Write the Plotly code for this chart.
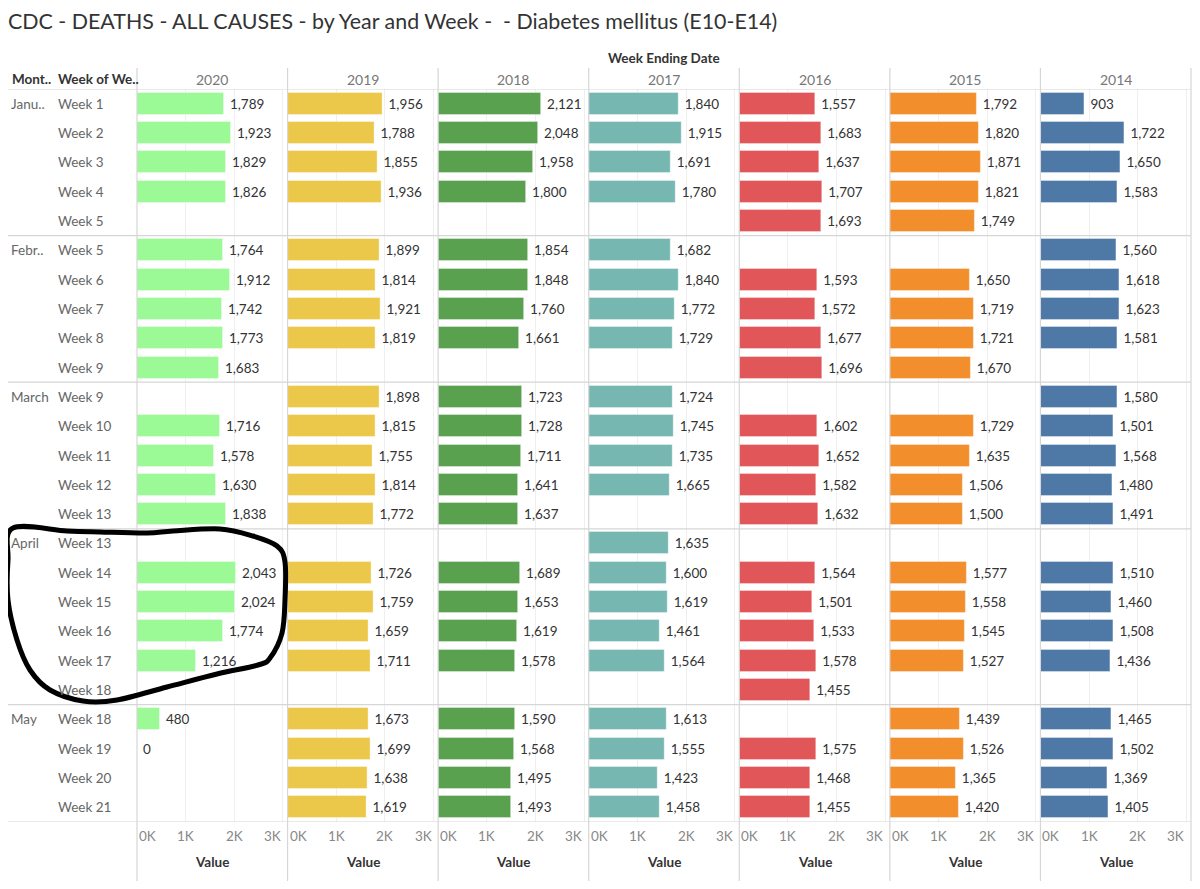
import plotly.graph_objects as go

# ---------------- data ----------------
years = ["2020", "2019", "2018", "2017", "2016", "2015", "2014"]
colors = ["#9bfa96", "#ecc84a", "#59a14f", "#76b7b2", "#e15759", "#f28e2b", "#4e79a7"]

month_labels = ["Janu..", "Febr..", "March", "April", "May"]
weeks_by_month = [
    ["Week 1", "Week 2", "Week 3", "Week 4", "Week 5"],
    ["Week 5", "Week 6", "Week 7", "Week 8", "Week 9"],
    ["Week 9", "Week 10", "Week 11", "Week 12", "Week 13"],
    ["Week 13", "Week 14", "Week 15", "Week 16", "Week 17", "Week 18"],
    ["Week 18", "Week 19", "Week 20", "Week 21"],
]

N = None
v2020 = [1789, 1923, 1829, 1826, N,   1764, 1912, 1742, 1773, 1683,  N,    1716, 1578, 1630, 1838,  N,    2043, 2024, 1774, 1216, N,   480,  0,    N,    N]
v2019 = [1956, 1788, 1855, 1936, N,   1899, 1814, 1921, 1819, N,     1898, 1815, 1755, 1814, 1772,  N,    1726, 1759, 1659, 1711, N,   1673, 1699, 1638, 1619]
v2018 = [2121, 2048, 1958, 1800, N,   1854, 1848, 1760, 1661, N,     1723, 1728, 1711, 1641, 1637,  N,    1689, 1653, 1619, 1578, N,   1590, 1568, 1495, 1493]
v2017 = [1840, 1915, 1691, 1780, N,   1682, 1840, 1772, 1729, N,     1724, 1745, 1735, 1665, N,     1635, 1600, 1619, 1461, 1564, N,   1613, 1555, 1423, 1458]
v2016 = [1557, 1683, 1637, 1707, 1693, N,    1593, 1572, 1677, 1696,  N,    1602, 1652, 1582, 1632,  N,    1564, 1501, 1533, 1578, 1455, N,  1575, 1468, 1455]
v2015 = [1792, 1820, 1871, 1821, 1749, N,    1650, 1719, 1721, 1670,  N,    1729, 1635, 1506, 1500,  N,    1577, 1558, 1545, 1527, N,   1439, 1526, 1365, 1420]
v2014 = [903,  1722, 1650, 1583, N,   1560, 1618, 1623, 1581, N,     1580, 1501, 1568, 1480, 1491,  N,    1510, 1460, 1508, 1436, N,   1465, 1502, 1369, 1405]
values = [v2020, v2019, v2018, v2017, v2016, v2015, v2014]

x_ticks = [0, 1000, 2000, 3000]
x_tick_text = ["0K", "1K", "2K", "3K"]

title = "CDC - DEATHS - ALL CAUSES - by Year and Week -  - Diabetes mellitus (E10-E14)"

# ---------------- geometry ----------------
# The page body adds an 8px offset; screen coordinates below are compensated.
OFF = 8
W, H = 1200 - 2 * OFF, 889 - 2 * OFF
L, R, T, B = 137, 1191, 89, 822          # plot area in screen pixels
ML, MR, MT, MB = L - OFF, W - (R - OFF), T - OFF, H - (B - OFF)
PW, PH = W - ML - MR, H - MT - MB
FONT = "Lato"


def px_x(px):
    return (px - OFF - ML) / PW


def px_y(py):
    return 1 - (py - OFF - MT) / PH


row_weeks, row_month = [], []
for m, wk in zip(month_labels, weeks_by_month):
    for j, w in enumerate(wk):
        row_weeks.append(w)
        row_month.append(m if j == 0 else "")
n_rows = len(row_weeks)
rows = list(range(n_rows))

fig = go.Figure()
npanes = len(years)
for i, (yr, vals, col) in enumerate(zip(years, values, colors)):
    xa = "x" if i == 0 else f"x{i+1}"
    fig.add_trace(go.Bar(
        x=vals, y=rows, orientation="h", xaxis=xa, yaxis="y",
        marker=dict(color=col, line=dict(color="rgba(255,255,255,0.35)", width=1)),
        width=0.75,
        text=["" if v is None else "\u00a0" + f"{v:,}" for v in vals],
        textposition="outside", cliponaxis=False, constraintext="none",
        outsidetextfont=dict(family=FONT, size=13.5, color="#333333"),
        showlegend=False, hoverinfo="x+y",
    ))
    key = "xaxis" if i == 0 else f"xaxis{i+1}"
    fig.layout[key] = dict(
        domain=[i / npanes, (i + 1) / npanes], anchor="y", range=[0, 3095],
        tickvals=x_ticks, showticklabels=False, showgrid=True, gridcolor="#efefef",
        gridwidth=1, zeroline=False, showline=False, fixedrange=True,
    )

fig.update_layout(
    width=W, height=H,
    margin=dict(l=ML, r=MR, t=MT, b=MB, autoexpand=False),
    paper_bgcolor="white", plot_bgcolor="white",
    bargap=0,
    yaxis=dict(range=[n_rows - 0.5, -0.5], showticklabels=False, showgrid=False,
               zeroline=False, domain=[0, 1], anchor="x", fixedrange=True),
    title=dict(text=title, x=0, xanchor="left", xref="container",
               y=1 - (22 - OFF) / H, yanchor="middle", yref="container", pad=dict(l=0, r=0, t=0, b=0),
               font=dict(family=FONT, size=21.4, color="#333333")),
    font=dict(family=FONT),
)

ann = []
shapes = []
line_col = "#d6d6d6"


def text_ann(text, x, y, xref="paper", yref="paper", xanchor="center", size=13.5, color="#333333", xshift=0):
    return dict(text=text, x=x, y=y, xref=xref, yref=yref, xanchor=xanchor, yanchor="middle",
                xshift=xshift, showarrow=False, font=dict(family=FONT, size=size, color=color))


# header texts
ann.append(text_ann("<b>Week Ending Date</b>", 0.5, px_y(58), size=13.5))
ann.append(text_ann("<b>Mont..</b>", px_x(10), px_y(79), xanchor="left", size=13.5))
ann.append(text_ann("<b>Week of We..</b>", px_x(56), px_y(79), xanchor="left", size=13.5))

for i, yr in enumerate(years):
    xa = "x" if i == 0 else f"x{i+1}"
    cx = (i + 0.5) / npanes
    ann.append(text_ann(yr, cx, px_y(79), size=14, color="#777777"))
    ann.append(text_ann("<b>Value</b>", cx, px_y(862), size=13.5))
    for t, tt in zip(x_ticks, x_tick_text):
        anchor = "left" if t == x_ticks[0] else ("right" if t == x_ticks[-1] else "center")
        ann.append(text_ann(tt, t, px_y(836), xref=xa, xanchor=anchor, size=13.5, color="#888888",
                            xshift=0))

# row labels
for r, (w, m) in enumerate(zip(row_weeks, row_month)):
    ann.append(text_ann(w, px_x(56), r, yref="y", xanchor="left", size=13.5, color="#666666"))
    if m:
        ann.append(text_ann(m, px_x(9), r, yref="y", xanchor="left", size=13.5, color="#666666"))

# pane borders
for i in range(npanes + 1):
    shapes.append(dict(type="line", xref="paper", yref="paper", x0=i / npanes, x1=i / npanes,
                       y0=px_y(68), y1=px_y(881), line=dict(color=line_col, width=1.2), layer="above"))

# horizontal separators: header bottom, month boundaries, bottom
bounds = [0]
acc = 0
for wk in weeks_by_month:
    acc += len(wk)
    bounds.append(acc)
for b in bounds:
    shapes.append(dict(type="line", xref="paper", yref="y", x0=px_x(4), x1=1,
                       y0=b - 0.5, y1=b - 0.5, line=dict(color=line_col, width=1.2), layer="above"))

# hand-drawn highlight around April 2020 (pixel outline of the marker stroke)
loop_px = [(13, 528), (67, 531), (100, 532), (147, 533), (173, 531), (220, 529), (253, 536),
           (277, 546), (285, 562), (285, 600), (282, 633), (270, 658), (258, 665), (217, 674),
           (167, 687), (117, 700), (83, 701), (50, 690), (30, 670), (17, 640), (8, 600),
           (8, 560), (13, 528)]
pts = [(px_x(a), px_y(b)) for a, b in loop_px]


def catmull(p):
    n = len(p)
    d = f"M {p[0][0]:.5f},{p[0][1]:.5f}"
    for k in range(n - 1):
        p0 = p[k - 1] if k > 0 else p[n - 2]
        p1, p2 = p[k], p[k + 1]
        p3 = p[k + 2] if k + 2 < n else p[1]
        c1 = (p1[0] + (p2[0] - p0[0]) / 6, p1[1] + (p2[1] - p0[1]) / 6)
        c2 = (p2[0] - (p3[0] - p1[0]) / 6, p2[1] - (p3[1] - p1[1]) / 6)
        d += f" C {c1[0]:.5f},{c1[1]:.5f} {c2[0]:.5f},{c2[1]:.5f} {p2[0]:.5f},{p2[1]:.5f}"
    return d


shapes.append(dict(type="path", xref="paper", yref="paper", path=catmull(pts),
                   line=dict(color="black", width=5), layer="above"))

fig.update_layout(annotations=ann, shapes=shapes)
fig.write_html("out.html")
